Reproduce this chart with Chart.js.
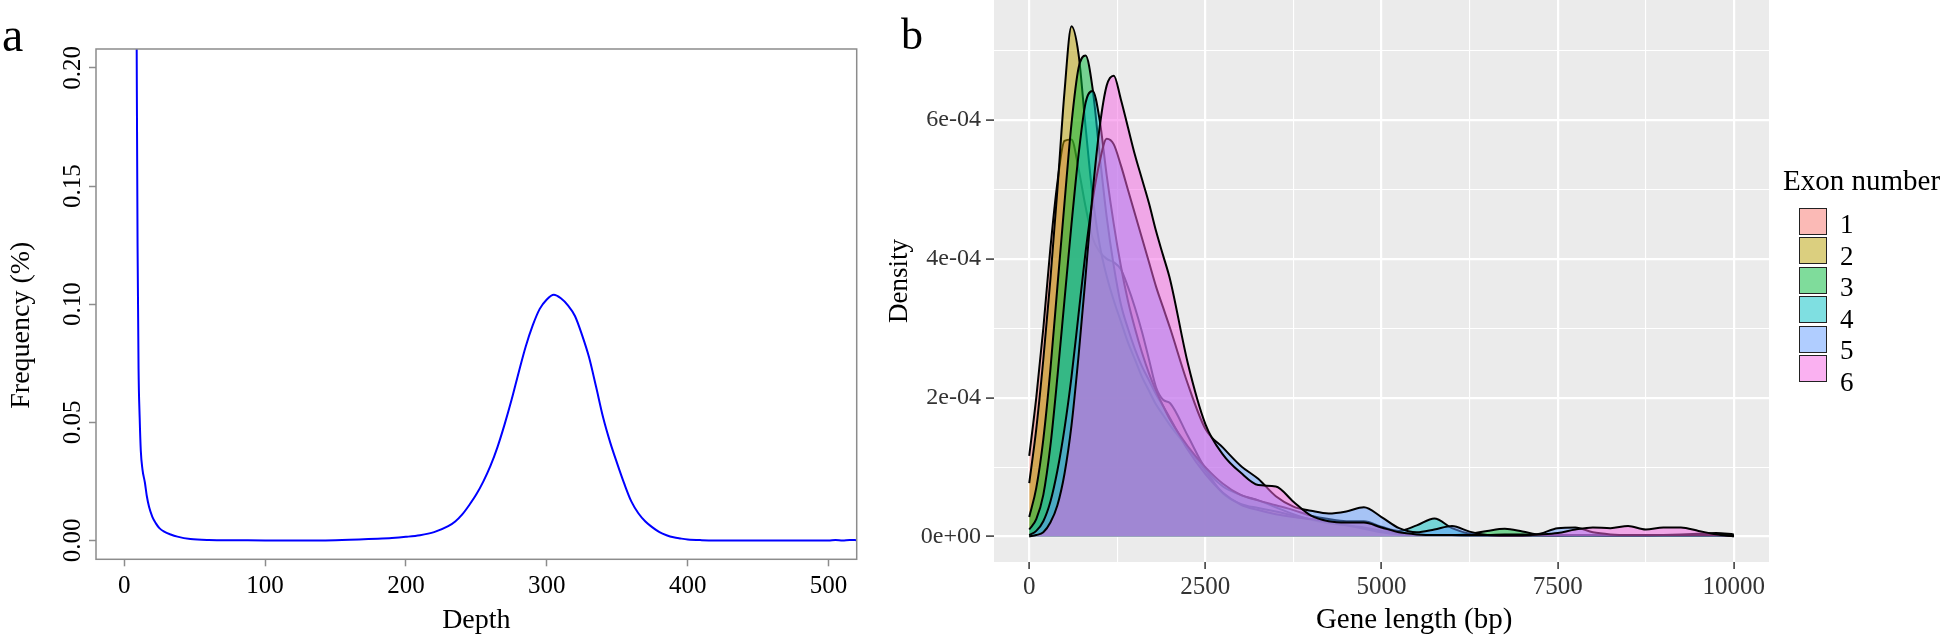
<!DOCTYPE html>
<html>
<head>
<meta charset="utf-8">
<script src="https://cdn.jsdelivr.net/npm/chart.js@4.4.1/dist/chart.umd.min.js"></script>
<style>
  html, body { margin: 0; padding: 0; background: #fff; }
  #wrap { position: relative; width: 1944px; height: 640px; overflow: hidden;
          font-family: "Liberation Serif", "Times New Roman", serif; color: #000; }
  canvas { position: absolute; top: 0; }
  .plab { position: absolute; line-height: 1; }
  .lgtitle { position: absolute; line-height: 1; font-size: 29px; white-space: nowrap; }
  .lgkey { position: absolute; box-sizing: border-box; border: 1.5px solid #222; }
  .lglab { position: absolute; line-height: 1; font-size: 27px; }
</style>
</head>
<body>
<div id="wrap">
  <canvas id="chartA" width="880" height="640" style="left:0px"></canvas>
  <canvas id="chartB" width="1064" height="640" style="left:880px"></canvas>
  <div class="plab" style="left:2px;top:11px;font-size:48px;">a</div>
  <div class="plab" style="left:901px;top:13px;font-size:44px;">b</div>
  <div id="legend"></div>
</div>
<script>
// ---------------- Panel a data ----------------
const depth = [8, 9, 9.5, 10.2, 11, 11.8, 13, 14.7, 16, 17.7,
  20, 22.5, 25, 28.4, 33, 37.8, 47, 60, 80, 100,
  120, 140, 160, 170, 180, 190, 200, 210, 220, 230,
  235, 240, 245, 250, 255, 260, 265, 270, 275, 280,
  285, 290, 295, 300, 305, 310, 315, 320, 325, 330,
  335, 340, 345, 350, 355, 360, 365, 370, 375, 380,
  385, 390, 395, 400, 410, 420, 440, 460, 480, 500,
  505, 510, 515, 520];
const frequency = [0.35, 0.19, 0.125, 0.073, 0.052, 0.038, 0.030, 0.0245, 0.019, 0.0141,
  0.010, 0.0072, 0.0052, 0.0037, 0.0025, 0.0016, 0.0006, 0.0002, 0.0001, 0.0,
  0.0, 0.0, 0.0003, 0.0005, 0.0007, 0.0010, 0.0015, 0.0022, 0.0035, 0.0060,
  0.0080, 0.0110, 0.0150, 0.0195, 0.0250, 0.0315, 0.0395, 0.0490, 0.0595, 0.0710,
  0.0820, 0.0910, 0.0980, 0.1020, 0.1040, 0.1025, 0.0995, 0.0950, 0.0870, 0.0775,
  0.0650, 0.0520, 0.0415, 0.0325, 0.0240, 0.0165, 0.0115, 0.0080, 0.0055, 0.0035,
  0.0022, 0.0013, 0.0008, 0.0004, 0.0001, 0.0, 0.0, 0.0, 0.0, 0.0,
  0.0002, 0.0, 0.0002, 0.0001];
const depthTickLabels = ['0', '100', '200', '300', '400', '500'];
const frequencyTickLabels = ['0.00', '0.05', '0.10', '0.15', '0.20'];

// ---------------- Panel b data (density in units of 1e-4) ----------------
const geneLength = [0, 100, 200, 300, 400, 500, 600, 700, 800, 900, 1000,
  1100, 1200, 1300, 1400, 1500, 1600, 1700, 1800, 1900, 2000,
  2250, 2500, 2750, 3000, 3250, 3500, 3750, 4000, 4250, 4500, 4750, 5000,
  5250, 5500, 5750, 6000, 6250, 6500, 6750, 7000, 7250, 7500, 7750, 8000,
  8250, 8500, 8750, 9000, 9250, 9500, 9750, 10000];
const exon1 = [1.16, 2.0, 3.0, 4.15, 5.1, 5.7, 5.72, 5.3, 4.75, 4.3, 4.1,
  4.0, 3.95, 3.85, 3.6, 3.3, 2.95, 2.55, 2.15, 1.97, 1.92,
  1.45, 0.98, 0.72, 0.6, 0.52, 0.42, 0.32, 0.24, 0.19, 0.16, 0.13, 0.08,
  0.04, 0.02, 0.02, 0.02, 0.01, 0.01, 0.01, 0.01, 0.01, 0.01, 0.01, 0.01,
  0.01, 0.01, 0.01, 0.01, 0.01, 0.01, 0.01, 0.01];
const exon2 = [0.77, 1.55, 2.55, 3.7, 5.0, 6.4, 7.35, 6.95, 5.9, 4.9, 4.2,
  3.75, 3.4, 3.1, 2.8, 2.55, 2.3, 2.1, 1.9, 1.75, 1.6,
  1.28, 0.95, 0.62, 0.47, 0.41, 0.36, 0.3, 0.25, 0.2, 0.16, 0.11, 0.06,
  0.03, 0.02, 0.02, 0.02, 0.01, 0.01, 0.01, 0.01, 0.01, 0.01, 0.01, 0.01,
  0.01, 0.01, 0.01, 0.01, 0.01, 0.01, 0.01, 0.01];
const exon3 = [0.28, 0.7, 1.4, 2.4, 3.6, 4.8, 5.95, 6.75, 6.93, 6.45, 5.5,
  4.6, 3.9, 3.35, 3.0, 2.7, 2.45, 2.25, 2.05, 1.88, 1.7,
  1.25, 0.9, 0.63, 0.46, 0.38, 0.32, 0.28, 0.25, 0.22, 0.2, 0.2, 0.12,
  0.05, 0.03, 0.02, 0.02, 0.04, 0.08, 0.11, 0.07, 0.02, 0.01, 0.02, 0.02,
  0.01, 0.01, 0.01, 0.02, 0.03, 0.04, 0.05, 0.03];
const exon4 = [0.1, 0.25, 0.6, 1.3, 2.3, 3.4, 4.5, 5.5, 6.25, 6.42, 6.0,
  5.2, 4.5, 3.9, 3.4, 3.0, 2.65, 2.35, 2.1, 1.88, 1.68,
  1.3, 1.0, 0.76, 0.6, 0.52, 0.45, 0.38, 0.3, 0.25, 0.22, 0.22, 0.14,
  0.08, 0.16, 0.26, 0.12, 0.04, 0.02, 0.03, 0.03, 0.02, 0.02, 0.02, 0.02,
  0.02, 0.02, 0.02, 0.02, 0.02, 0.02, 0.02, 0.01];
const exon5 = [0.02, 0.08, 0.22, 0.5, 0.95, 1.55, 2.3, 3.2, 4.1, 4.85, 5.4,
  5.73, 5.65, 5.35, 5.0, 4.65, 4.3, 3.95, 3.6, 3.3, 3.0,
  2.2, 1.55, 1.28, 1.02, 0.83, 0.58, 0.43, 0.37, 0.33, 0.36, 0.42, 0.28,
  0.12, 0.06, 0.1, 0.15, 0.07, 0.02, 0.01, 0.01, 0.04, 0.12, 0.13, 0.06,
  0.03, 0.02, 0.02, 0.02, 0.02, 0.02, 0.02, 0.01];
const exon6 = [0.0, 0.02, 0.06, 0.2, 0.45, 0.9, 1.6, 2.6, 3.75, 4.95, 5.9,
  6.5, 6.64, 6.3, 5.9, 5.5, 5.15, 4.8, 4.4, 4.05, 3.7,
  2.5, 1.62, 1.18, 0.92, 0.74, 0.72, 0.5, 0.3, 0.22, 0.2, 0.2, 0.13,
  0.06, 0.03, 0.02, 0.02, 0.02, 0.02, 0.02, 0.02, 0.03, 0.05, 0.1, 0.13,
  0.12, 0.15, 0.1, 0.13, 0.13, 0.08, 0.03, 0.0];
const exonNumbers = ['1', '2', '3', '4', '5', '6'];
const lengthTickValues = [0, 1250, 2500, 3750, 5000, 6250, 7500, 8750, 10000];
const lengthTickLabels = ['0', '2500', '5000', '7500', '10000'];
const densityTickLabels = ['0e+00', '2e-04', '4e-04', '6e-04'];

// ---------------- styling ----------------
const SERIF = '"Liberation Serif", "Times New Roman", serif';
Chart.defaults.font.family = SERIF;
const exonFills = ['rgba(248,118,109,0.5)', 'rgba(183,159,0,0.5)', 'rgba(0,186,56,0.5)',
                   'rgba(0,191,196,0.5)', 'rgba(97,156,255,0.5)', 'rgba(245,100,227,0.5)'];
const DENSITY_UNIT = 1e-4;
const NB = '\u00a0';

const rBox = {
  id: 'rBox',
  afterDraw(chart, args, opts) {
    const {ctx, chartArea: a} = chart;
    ctx.save();
    ctx.strokeStyle = opts.color; ctx.lineWidth = opts.width;
    ctx.strokeRect(a.left, a.top, a.right - a.left, a.bottom - a.top);
    ctx.restore();
  }
};
const panelBg = {
  id: 'panelBg',
  beforeDraw(chart, args, opts) {
    const {ctx, chartArea: a} = chart;
    ctx.save();
    ctx.fillStyle = opts.color;
    ctx.fillRect(a.left, a.top, a.right - a.left, a.bottom - a.top);
    ctx.restore();
  }
};

// ---------------- Panel a ----------------
const rGrid = { drawOnChartArea: false, drawTicks: true, tickLength: 7, tickColor: '#8c8c8c', tickWidth: 1.5 };
new Chart(document.getElementById('chartA'), {
  type: 'line',
  data: {
    datasets: [{
      label: 'Frequency',
      data: depth.map((d, i) => ({x: d, y: frequency[i]})),
      borderColor: '#0000ff', borderWidth: 2, pointRadius: 0, fill: false,
      cubicInterpolationMode: 'monotone'
    }]
  },
  options: {
    responsive: false, animation: false, devicePixelRatio: 1,
    layout: {padding: {top: 49, right: 23.3, bottom: 0, left: 0}},
    plugins: {legend: {display: false}, tooltip: {enabled: false}, rBox: {color: '#8c8c8c', width: 1.5}},
    scales: {
      x: {
        type: 'linear', min: -20, max: 520,
        ticks: {stepSize: 100, includeBounds: false, autoSkip: false, maxRotation: 0,
                color: '#000', font: {size: 25}, padding: 5,
                callback: v => depthTickLabels[Math.round(v / 100)]},
        grid: rGrid, border: {display: false},
        title: {display: true, text: 'Depth', color: '#000', font: {size: 28}, padding: {top: 0, bottom: 3}},
        afterFit(s) { s.height = 80.7; s.paddingLeft = 0; s.paddingRight = 0; }
      },
      y: {
        type: 'linear', min: -0.008, max: 0.208,
        ticks: {stepSize: 0.05, includeBounds: false, autoSkip: false, minRotation: 90, maxRotation: 90,
                crossAlign: 'center', padding: -6, color: '#000', font: {size: 25},
                callback: v => frequencyTickLabels[Math.round(v / 0.05)]},
        grid: rGrid, border: {display: false},
        title: {display: true, text: 'Frequency (%)' + NB.repeat(6), color: '#000', font: {size: 28}, padding: {top: 5, bottom: 0}},
        afterFit(s) { s.width = 96; s.paddingTop = 0; s.paddingBottom = 0; }
      }
    }
  },
  plugins: [rBox]
});

// ---------------- Panel b ----------------
const exonSeries = [exon1, exon2, exon3, exon4, exon5, exon6];
const isMajorX = c => c.tick && Math.round(c.tick.value) % 2500 === 0;
const isMajorY = c => c.tick && Math.round(c.tick.value / DENSITY_UNIT) % 2 === 0;
new Chart(document.getElementById('chartB'), {
  type: 'line',
  data: {
    datasets: exonSeries.map((vals, i) => ({
      label: exonNumbers[i],
      data: geneLength.map((g, j) => ({x: g, y: vals[j] * DENSITY_UNIT})),
      borderColor: '#000', borderWidth: 2, backgroundColor: exonFills[i],
      fill: 'origin', pointRadius: 0, cubicInterpolationMode: 'monotone',
      order: exonSeries.length - i
    }))
  },
  options: {
    responsive: false, animation: false, devicePixelRatio: 1,
    layout: {padding: {top: 0, right: 175, bottom: 0, left: 0}},
    plugins: {legend: {display: false}, tooltip: {enabled: false}, panelBg: {color: '#EBEBEB'}},
    scales: {
      x: {
        type: 'linear', min: -500, max: 10500,
        afterBuildTicks(s) { s.ticks = lengthTickValues.map(v => ({value: v})); },
        ticks: {autoSkip: false, maxRotation: 0,
                color: '#333', font: {size: 25}, padding: 3,
                callback: v => (Math.round(v) % 2500 === 0 ? lengthTickLabels[Math.round(v / 2500)] : '')},
        grid: {color: '#fff', lineWidth: c => (isMajorX(c) ? 2.2 : 1.1), drawTicks: true, tickLength: 7,
               tickWidth: 1.5, tickColor: c => (isMajorX(c) ? '#333' : 'rgba(0,0,0,0)')},
        border: {display: false},
        title: {display: true, text: NB.repeat(9) + 'Gene length (bp)', color: '#000', font: {size: 29}, padding: {top: 0, bottom: 2}},
        afterFit(s) { s.height = 78; s.paddingLeft = 0; s.paddingRight = 0; }
      },
      y: {
        type: 'linear', min: -0.0000368, max: 0.000773,
        ticks: {stepSize: 0.0001, includeBounds: false, autoSkip: false,
                color: '#333', font: {size: 24}, padding: 5,
                callback: v => { const k = Math.round(v / DENSITY_UNIT); return k % 2 === 0 ? densityTickLabels[k / 2] : ''; }},
        grid: {color: '#fff', lineWidth: c => (isMajorY(c) ? 2.2 : 1.1), drawTicks: true, tickLength: 8,
               tickWidth: 1.5, tickColor: c => (isMajorY(c) ? '#333' : 'rgba(0,0,0,0)')},
        border: {display: false},
        title: {display: true, text: 'Density', color: '#000', font: {size: 27}, padding: {top: 4, bottom: 0}},
        afterFit(s) { s.width = 114; s.paddingTop = 0; s.paddingBottom = 0; }
      }
    }
  },
  plugins: [panelBg]
});

// ---------------- Legend (panel b) ----------------
const lg = document.getElementById('legend');
const lt = document.createElement('div');
lt.className = 'lgtitle'; lt.textContent = 'Exon number';
lt.style.left = '1783px'; lt.style.top = '166px';
lg.appendChild(lt);
exonNumbers.forEach((name, i) => {
  const k = document.createElement('div');
  k.className = 'lgkey';
  k.style.left = '1799px'; k.style.top = (208 + i * 29.4) + 'px';
  k.style.width = '28px'; k.style.height = '27px';
  k.style.background = exonFills[i];
  lg.appendChild(k);
  const t = document.createElement('div');
  t.className = 'lglab'; t.textContent = name;
  t.style.left = '1840px'; t.style.top = (211 + i * 31.6) + 'px';
  lg.appendChild(t);
});
</script>
</body>
</html>
